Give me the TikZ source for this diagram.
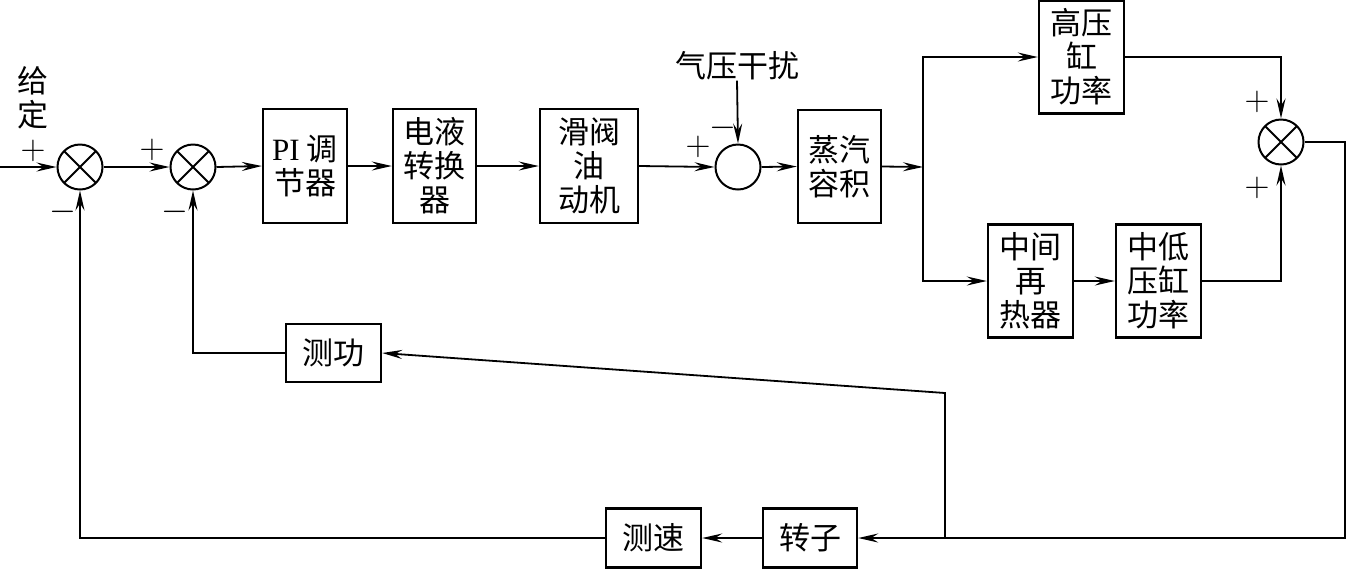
\documentclass[tikz,border=0pt]{standalone}
\usepackage{fontspec}
\setmainfont{Liberation Serif}
\newfontfamily\cjk{Noto Sans CJK SC}
\usetikzlibrary{arrows.meta}
\begin{document}
\begin{tikzpicture}[x=0.5pt,y=-0.5pt,
  box/.style={draw,line width=1.2pt,inner sep=0pt,align=center,font=\cjk\fontsize{15.5}{17}\selectfont},
  sum/.style={draw,circle,line width=1pt,minimum size=22.5pt,inner sep=0pt},
  xsum/.style={sum,path picture={\draw[line width=1pt]
     (path picture bounding box.north west)--(path picture bounding box.south east)
     (path picture bounding box.north east)--(path picture bounding box.south west);}},
  wire/.style={line width=0.9pt},
  arr/.style={wire,-{Stealth[length=10pt,width=4.5pt,inset=3.5pt]}},
  lbl/.style={inner sep=0pt,font=\cjk\fontsize{15.5}{17}\selectfont,align=center},
  sgn/.style={inner sep=0pt,font=\fontsize{16}{17}\selectfont}
]
\useasboundingbox (0,0) rectangle (1349,569);

% summing junctions
\node[xsum] (j1) at (80,167) {};
\node[xsum] (j2) at (193,167) {};
\node[sum]  (c1) at (738,167) {};
\node[xsum] (j3) at (1281,142) {};

% blocks
\node[box,minimum width=42pt,minimum height=57pt] (pi) at (305,166) {{\rmfamily PI} 调\\节器};
\node[box,minimum width=41.5pt,minimum height=57pt] (eh) at (434.5,166) {电液\\转换\\器};
\node[box,minimum width=49pt,minimum height=57pt] (sv) at (589,166) {滑阀\\油\\动机};
\node[box,minimum width=41.5pt,minimum height=56.5pt] (st) at (839.5,166.5) {蒸汽\\容积};
\node[box,minimum width=42.5pt,minimum height=56.5pt] (hp) at (1081.5,57) {高压\\缸\\功率};
\node[box,minimum width=42.5pt,minimum height=56.5pt] (rh) at (1030.5,281) {中间\\再\\热器};
\node[box,minimum width=42.5pt,minimum height=56.5pt] (lp) at (1158.5,281) {中低\\压缸\\功率};
\node[box,minimum width=47.5pt,minimum height=29pt] (cg) at (333.5,353) {测功};
\node[box,minimum width=47pt,minimum height=29.5pt] (rt) at (810,538) {转子};
\node[box,minimum width=47.5pt,minimum height=29.5pt] (cs) at (653.5,538) {测速};

% texts
\node[lbl] (gd) at (33,98) {给\\定};
\node[sgn] (p1) at (33,151) {$+$};
\node[sgn] (m1) at (63,212) {$-$};
\node[sgn] (p2) at (152,150) {$+$};
\node[sgn] (m2) at (175,212) {$-$};
\node[lbl] (qy) at (737,66) {气压干扰};
\node[sgn] (p3) at (698,147) {$+$};
\node[sgn] (m3) at (723,128) {$-$};
\node[sgn] (p4) at (1257,102) {$+$};
\node[sgn] (p5) at (1257,188) {$+$};

% coordinates
\coordinate (in) at (0,167);
\coordinate (br) at (923,167);
\coordinate (rc) at (1345,142);
\coordinate (tap) at (945,538);
\coordinate (bend) at (945,393);

% forward path
\draw[arr] (in) -- (j1.west);
\draw[arr] (j1.east) -- (j2.west);
\draw[arr] (j2.east) -- (pi.west);
\draw[arr] (pi.east) -- (eh.west);
\draw[arr] (eh.east) -- (sv.west);
\draw[arr] (sv.east) -- (c1.west);
\draw[arr] (qy.south) -- (c1.north);
\draw[arr] (c1.east) -- (st.west);
\draw[arr] (st.east) -- (br);
\draw[arr] (br) |- (hp.west);
\draw[arr] (br) |- (rh.west);
\draw[arr] (rh.east) -- (lp.west);
\draw[arr] (hp.east) -| (j3.north);
\draw[arr] (lp.east) -| (j3.south);
\draw[arr] (j3.east) -- (rc) |- (rt.east);

% feedback paths
\draw[arr] (tap) -- (bend) -- (cg.east);
\draw[arr] (cg.west) -| (j2.south);
\draw[arr] (rt.west) -- (cs.east);
\draw[arr] (cs.west) -| (j1.south);
\end{tikzpicture}
\end{document}
